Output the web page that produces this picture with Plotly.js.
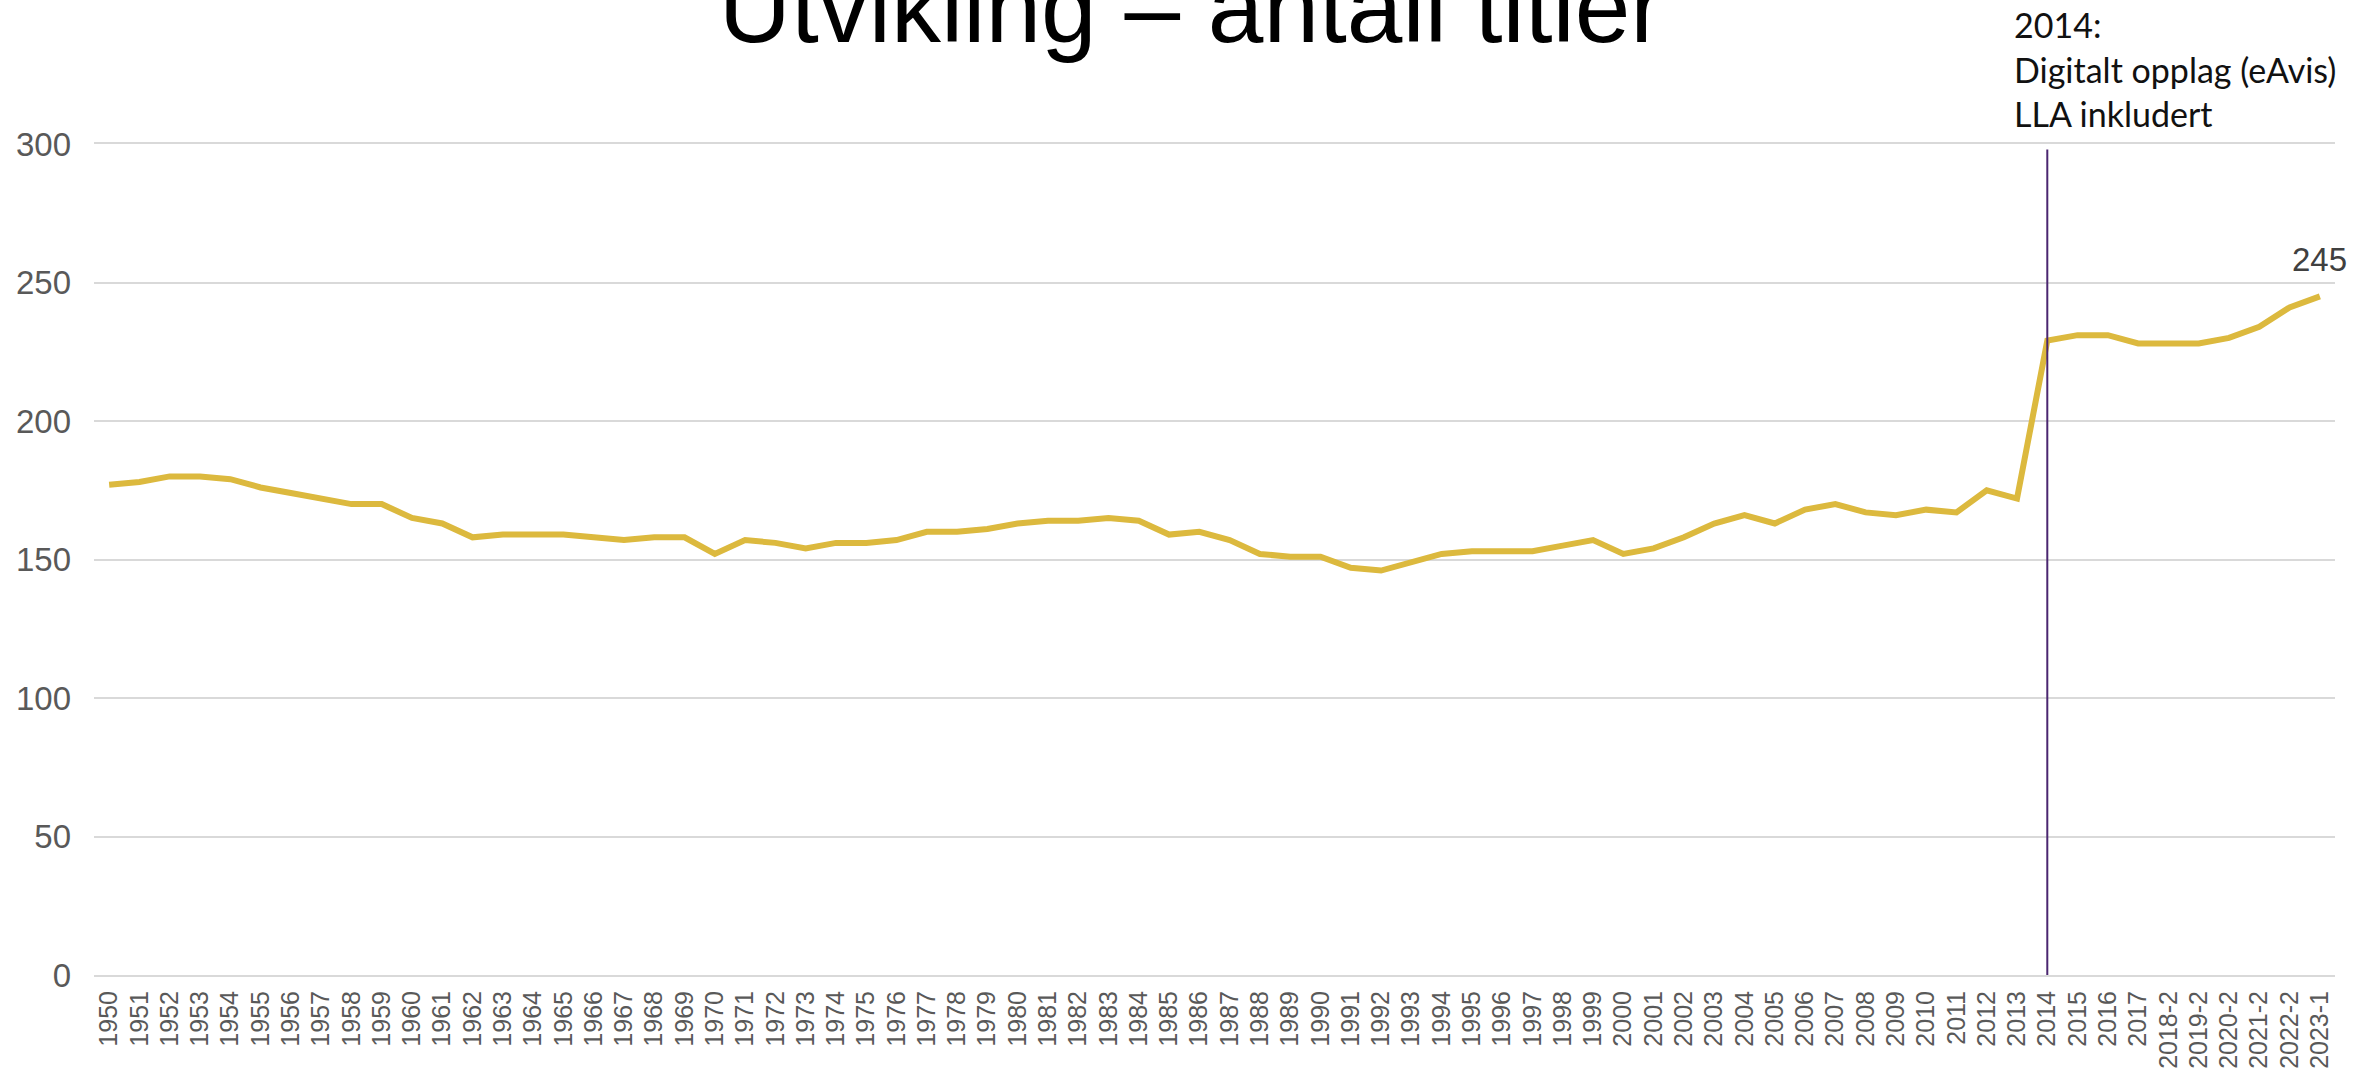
<!DOCTYPE html>
<html>
<head>
<meta charset="utf-8">
<script src="https://cdn.plot.ly/plotly-3.0.1.min.js"></script>
<style>
  html, body { margin: 0; padding: 0; background: #fff; }
  #chart { width: 2374px; height: 1070px; }
</style>
</head>
<body>
<div id="chart"></div>
<script>
// categories on the x axis: whole years, then half-year readings from 2018
const years = [
  "1950", "1951", "1952", "1953", "1954", "1955", "1956", "1957", "1958", "1959",
  "1960", "1961", "1962", "1963", "1964", "1965", "1966", "1967", "1968", "1969",
  "1970", "1971", "1972", "1973", "1974", "1975", "1976", "1977", "1978", "1979",
  "1980", "1981", "1982", "1983", "1984", "1985", "1986", "1987", "1988", "1989",
  "1990", "1991", "1992", "1993", "1994", "1995", "1996", "1997", "1998", "1999",
  "2000", "2001", "2002", "2003", "2004", "2005", "2006", "2007", "2008", "2009",
  "2010", "2011", "2012", "2013", "2014", "2015", "2016", "2017",
  "2018-2", "2019-2", "2020-2", "2021-2", "2022-2", "2023-1"
];

// number of titles
const titles = [
  177, 178, 180, 180, 179, 176, 174, 172, 170, 170,
  165, 163, 158, 159, 159, 159, 158, 157, 158, 158,
  152, 157, 156, 154, 156, 156, 157, 160, 160, 161,
  163, 164, 164, 165, 164, 159, 160, 157, 152, 151,
  151, 147, 146, 149, 152, 153, 153, 153, 155, 157,
  152, 154, 158, 163, 166, 163, 168, 170, 167, 166,
  168, 167, 175, 172, 229, 231, 231, 228,
  228, 228, 230, 234, 241, 245
];

const yTicks = [0, 50, 100, 150, 200, 250, 300];

const markerYear = "2014";
const noteLines = ["2014:", "Digitalt opplag (eAvis)", "LLA inkludert"];

const chartTitle = "Utvikling \u2013 antall titler";

const lastIdx = titles.length - 1;

const trace = {
  x: years,
  y: titles,
  type: "scatter",
  mode: "lines",
  line: { color: "#DCB93E", width: 6 },
  hoverinfo: "skip"
};

const noteY = [1.1437, 1.0902, 1.0369];
const notes = noteLines.map((t, i) => ({
  text: t,
  xref: "paper",
  yref: "paper",
  x: 0.8559,
  y: noteY[i],
  xanchor: "left",
  yanchor: "middle",
  showarrow: false,
  font: { family: "Lato, sans-serif", size: 34, color: "#111" }
}));

// value label on the last point
notes.push({
  text: String(titles[lastIdx]),
  xref: "x",
  yref: "y",
  x: lastIdx,
  y: titles[lastIdx],
  xanchor: "center",
  yanchor: "bottom",
  yshift: 16,
  showarrow: false,
  font: { family: "Liberation Sans, Arial, sans-serif", size: 33, color: "#404040" }
});

const layout = {
  width: 2374,
  height: 1070,
  margin: { l: 94, r: 39, t: 143.5, b: 95 },
  paper_bgcolor: "#fff",
  plot_bgcolor: "#fff",
  showlegend: false,
  title: {
    text: chartTitle,
    xref: "paper",
    x: 0.4896,
    xanchor: "center",
    yref: "container",
    y: 0.9935,
    yanchor: "middle",
    font: { family: "Liberation Sans, Arial, sans-serif", size: 100, color: "#000" }
  },
  xaxis: {
    type: "category",
    tickangle: -90,
    tickfont: { family: "Liberation Sans, Arial, sans-serif", size: 25, color: "#595959" },
    showgrid: false,
    showline: true,
    mirror: true,
    linecolor: "#D9D9D9",
    linewidth: 2,
    ticks: "",
    ticklabelstandoff: 4,
    range: [-0.5, years.length - 0.5],
    fixedrange: true
  },
  yaxis: {
    range: [0, 300],
    tickvals: yTicks,
    tickfont: { family: "Liberation Sans, Arial, sans-serif", size: 33, color: "#595959" },
    showgrid: true,
    gridcolor: "#D9D9D9",
    gridwidth: 2,
    zeroline: false,
    showline: false,
    ticks: "",
    ticklabelstandoff: 22,
    fixedrange: true
  },
  shapes: [{
    type: "line",
    xref: "x",
    yref: "y",
    x0: years.indexOf(markerYear),
    x1: years.indexOf(markerYear),
    y0: 0,
    y1: 298,
    line: { color: "#4A2670", width: 2 }
  }],
  annotations: notes
};

Plotly.newPlot("chart", [trace], layout, { displayModeBar: false, staticPlot: true });
</script>
</body>
</html>
